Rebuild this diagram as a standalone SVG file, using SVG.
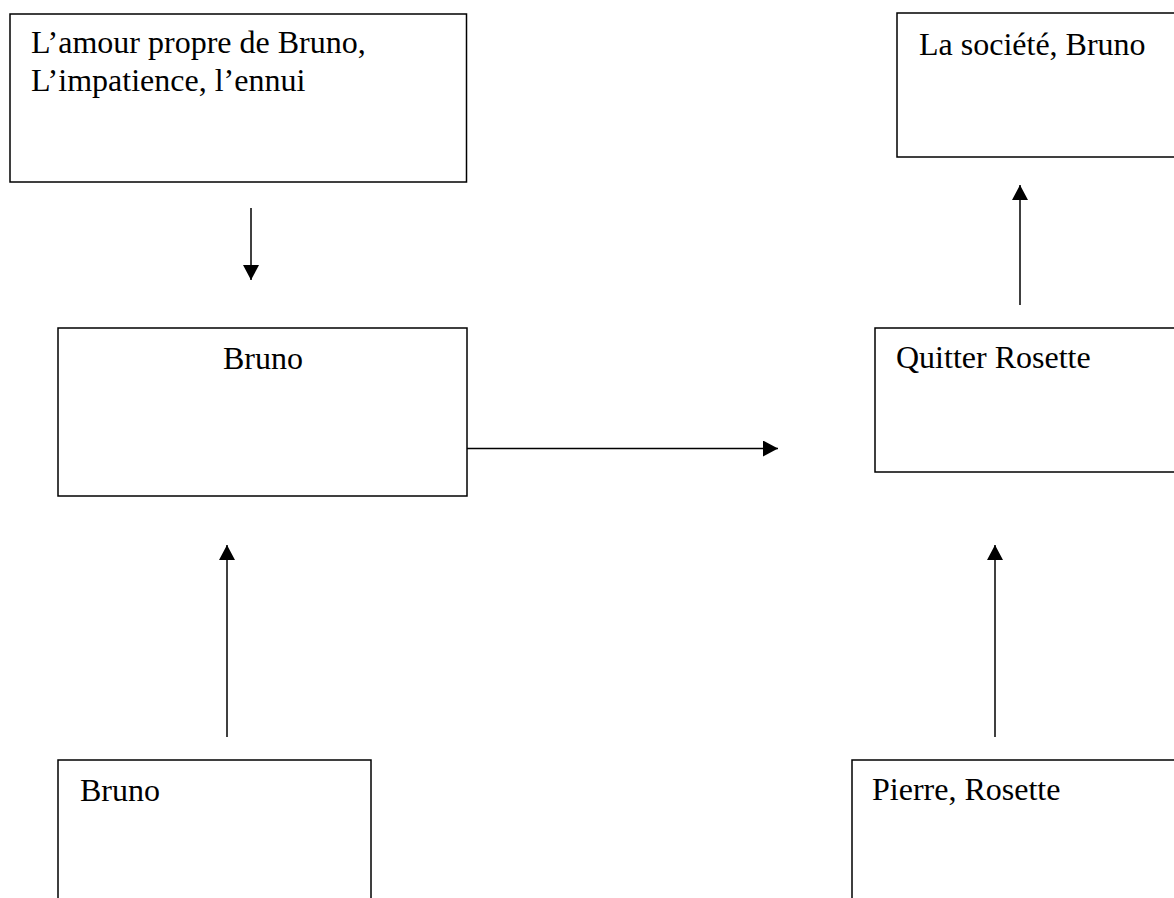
<svg xmlns="http://www.w3.org/2000/svg" width="1174" height="898" viewBox="0 0 1174 898">
<style>
.box{fill:#fff;stroke:#000;stroke-width:1.5}
.t{font-family:"Liberation Serif","Times New Roman",serif;font-size:32px;fill:#000}
.c{stroke:#000;stroke-width:1.5;fill:none}
</style>
<defs>
<marker id="ah" markerUnits="userSpaceOnUse" markerWidth="16" markerHeight="16" viewBox="0 0 15 16" refX="15" refY="8" orient="auto">
<path d="M0,0 L15,8 L0,16 Z" fill="#000"/>
</marker>
</defs>
<rect width="1174" height="898" fill="#fff"/>
<g id="n1"><rect class="box" x="10" y="14" width="456.5" height="168"/><text class="t" x="31" y="53">L’amour propre de Bruno,</text><text class="t" x="31" y="90.5">L’impatience, l’ennui</text></g>
<g id="n2"><rect class="box" x="897" y="13" width="290" height="144"/><text class="t" x="919" y="55">La société, Bruno</text></g>
<g id="n3"><rect class="box" x="58" y="328" width="409" height="168"/><text class="t" x="223" y="369">Bruno</text></g>
<g id="n4"><rect class="box" x="875" y="328" width="310" height="144"/><text class="t" x="896" y="368">Quitter Rosette</text></g>
<g id="n5"><rect class="box" x="58" y="760" width="313" height="160"/><text class="t" x="80" y="801">Bruno</text></g>
<g id="n6"><rect class="box" x="852" y="760" width="330" height="160"/><text class="t" x="872" y="800">Pierre, Rosette</text></g>
<g id="connectors">
<line class="c" x1="251" y1="208" x2="251" y2="280" marker-end="url(#ah)"/>
<line class="c" x1="467" y1="448.5" x2="778" y2="448.5" marker-end="url(#ah)"/>
<line class="c" x1="1020" y1="305" x2="1020" y2="185" marker-end="url(#ah)"/>
<line class="c" x1="227" y1="737" x2="227" y2="545" marker-end="url(#ah)"/>
<line class="c" x1="995" y1="737" x2="995" y2="545" marker-end="url(#ah)"/>
</g>
</svg>
